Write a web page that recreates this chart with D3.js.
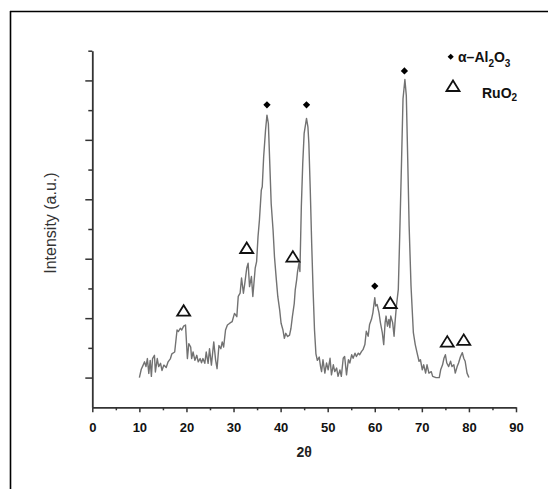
<!DOCTYPE html>
<html>
<head>
<meta charset="utf-8">
<script src="https://cdn.jsdelivr.net/npm/d3@7"></script>
<style>
  body { margin: 0; background: #fff; }
  svg { display: block; font-family: Arial, "Liberation Sans", sans-serif; }
</style>
</head>
<body>
<svg width="548" height="489"></svg>
<script>
// XRD pattern, 2theta vs intensity (arbitrary units)
const twoTheta = [10.0,10.4,10.8,11.1,11.4,11.7,12.0,12.3,12.55,12.8,13.2,13.4,13.8,14.1,14.5,14.8,15.2,15.7,16.1,16.6,16.9,17.5,
  18.0,18.3,18.7,19.0,19.4,19.8,20.2,20.5,20.9,21.1,21.4,21.8,22.2,22.5,22.9,23.2,23.5,23.9,24.2,24.6,24.9,25.3,25.8,26.2,26.5,
  26.9,27.3,27.6,27.9,28.3,28.7,29.2,29.7,30.2,30.7,31.0,31.4,31.7,32.1,32.4,32.8,33.1,33.4,33.8,34.1,34.6,34.9,35.2,35.5,35.9,
  36.1,36.4,36.8,37.1,37.4,37.7,38.0,38.4,38.7,39.1,39.4,39.8,40.1,40.5,40.8,41.1,41.5,41.9,42.2,42.5,42.9,43.1,43.4,43.6,43.9,
  44.1,44.4,44.7,45.0,45.5,45.8,46.0,46.3,46.6,46.9,47.2,47.5,47.8,48.2,48.5,48.7,49.0,49.4,49.75,50.1,50.5,50.8,51.2,51.5,51.9,
  52.2,52.6,52.9,53.3,53.6,54.0,54.4,54.7,55.1,55.4,55.8,56.1,56.5,56.8,57.2,57.5,57.9,58.2,58.6,58.9,59.3,59.6,60.0,60.2,60.5,
  60.9,61.2,61.6,61.9,62.2,62.4,62.7,63.0,63.2,63.4,63.8,64.1,64.3,64.6,65.0,65.3,65.7,66.0,66.4,66.7,67.0,67.3,67.7,68.2,68.6,
  69.0,69.4,69.7,70.1,70.4,70.8,71.1,71.5,72.0,72.3,73.0,73.7,74.0,74.4,74.7,75.0,75.3,75.7,76.1,76.4,76.8,77.1,77.5,77.8,78.2,
  78.6,78.9,79.2,79.6,80.0];
const intensity = [1.0,1.28,1.42,1.53,1.37,1.64,1.14,1.58,1.04,1.64,1.75,1.19,1.64,1.37,1.48,1.24,1.42,1.34,1.53,1.64,1.8,1.86,
  2.6,2.55,2.66,2.6,2.73,2.77,1.64,2.14,2.03,1.64,1.86,1.58,1.75,1.53,1.64,1.5,1.64,1.48,1.86,1.48,1.97,1.42,2.2,1.58,1.3,
  2.08,1.97,2.2,2.03,2.6,2.77,2.83,2.88,3.16,3.05,3.73,3.84,4.35,3.84,4.18,4.68,4.85,4.06,4.4,3.73,4.68,4.9,5.74,6.3,7.31,
  7.42,8.43,9.33,9.83,9.55,8.2,6.85,5.96,5.06,4.28,3.73,3.28,2.83,2.6,2.32,2.49,2.38,2.43,2.66,3.05,3.5,3.94,4.28,4.57,4.85,
  4.57,6.74,8.2,9.22,9.72,9.44,8.88,7.31,5.51,3.94,2.6,1.8,1.58,1.69,1.35,1.2,1.6,1.15,1.49,1.26,1.65,1.09,1.43,1.2,1.32,
  1.04,1.26,1.04,1.65,1.71,1.09,1.6,1.49,1.77,1.65,1.82,1.71,1.82,1.77,1.88,1.94,2.11,2.56,2.39,2.79,2.96,3.18,3.69,3.41,3.46,
  3.18,2.85,2.51,2.11,2.85,3.07,2.73,2.96,2.68,3.07,2.85,2.39,2.85,3.41,3.97,5.77,8.36,10.38,11.03,10.49,8.36,6.1,4.08,2.51,2.11,
  1.82,1.55,1.6,1.26,1.43,1.15,1.43,1.15,1.2,1.04,1.0,1.0,1.26,1.43,1.65,1.77,1.49,1.37,1.55,1.37,1.43,1.15,1.37,1.49,1.7,
  1.84,1.65,1.55,1.15,1.0];

// peak markers
const aluminaX = [37.1, 45.5, 60.0, 66.3];
const aluminaY = [10.18, 10.18, 4.08, 11.32];
const rutheniaX = [19.4, 32.8, 42.6, 63.3, 75.4, 78.9];
const rutheniaY = [3.25, 5.36, 5.07, 3.51, 2.21, 2.27];

const xTicks = [0, 10, 20, 30, 40, 50, 60, 70, 80, 90];
const xMinor = [5, 15, 25, 35, 45, 55, 65, 75, 85];
const yMajor = [1, 3, 5, 7, 9, 11];
const yMinor = [2, 4, 6, 8, 10, 12];

const svg = d3.select('svg');

// outer frame (only top and left edges visible)
svg.append('line').attr('x1', 10).attr('x2', 548).attr('y1', 11.5).attr('y2', 11.5)
  .attr('stroke', '#000').attr('stroke-width', 1.6);
svg.append('line').attr('x1', 10.5).attr('x2', 10.5).attr('y1', 11).attr('y2', 489)
  .attr('stroke', '#000').attr('stroke-width', 1.6);

let x = d3.scaleLinear().domain([0, 90]).range([92.3, 516]);
let y = d3.scaleLinear().domain([0, 12]).range([407.3, 50.7]);

// x axis
let xAxis = svg.append('g').attr('transform', `translate(0,${y(0)})`)
  .call(d3.axisBottom(x).tickValues(xTicks).tickSize(5).tickSizeOuter(0).tickPadding(10));
svg.append('g').attr('transform', `translate(0,${y(0)})`)
  .call(d3.axisBottom(x).tickValues(xMinor).tickSize(3).tickFormat(''))
  .select('.domain').remove();
xAxis.selectAll('text').attr('font-size', 13).attr('font-weight', 'bold')
  .attr('font-family', 'Arial, "Liberation Sans", sans-serif').attr('fill', '#111');

// y axis, no labels
let yAxis = svg.append('g').attr('transform', `translate(${x(0)},0)`)
  .call(d3.axisLeft(y).tickValues(yMajor).tickSize(7).tickSizeOuter(0).tickFormat(''));
svg.append('g').attr('transform', `translate(${x(0)},0)`)
  .call(d3.axisLeft(y).tickValues(yMinor).tickSize(4).tickFormat(''))
  .select('.domain').remove();

svg.selectAll('.domain').attr('stroke', '#333').attr('stroke-width', 1.8);
svg.selectAll('.tick line').attr('stroke', '#333').attr('stroke-width', 1.5);

// axis titles
svg.append('text').attr('x', (x(0) + x(90)) / 2).attr('y', 457)
  .attr('text-anchor', 'middle').attr('font-size', 14).attr('font-weight', 'bold')
  .attr('fill', '#222').text('2θ');
svg.append('text').attr('transform', `translate(56,${y(6.2)}) rotate(-90)`)
  .attr('text-anchor', 'middle').attr('font-size', 16).attr('fill', '#333')
  .text('Intensity (a.u.)');

// the pattern
let pts = twoTheta.map((t, i) => [t, intensity[i]]);
let line = d3.line().x((d) => x(d[0])).y((d) => y(d[1]));
svg.append('path').datum(pts).attr('d', line)
  .attr('fill', 'none').attr('stroke', '#727272').attr('stroke-width', 1.4)
  .attr('stroke-linejoin', 'round');

// markers
let diamond = d3.symbol().type(d3.symbolDiamond2).size(34);
aluminaX.forEach((t, i) => {
  svg.append('path').attr('d', diamond())
    .attr('transform', `translate(${x(t)},${y(aluminaY[i])})`).attr('fill', '#000');
});

function tri(cx, cy) {
  return `M${cx - 6.5},${cy + 5} L${cx},${cy - 5.5} L${cx + 6.5},${cy + 5} Z`;
}
rutheniaX.forEach((t, i) => {
  svg.append('path').attr('d', tri(x(t), y(rutheniaY[i])))
    .attr('fill', 'none').attr('stroke', '#111').attr('stroke-width', 1.8)
    .attr('stroke-linejoin', 'miter');
});

// legend
svg.append('path').attr('d', d3.symbol().type(d3.symbolDiamond2).size(24)())
  .attr('transform', 'translate(450.7,56.7)').attr('fill', '#000');
let t1 = svg.append('text').attr('x', 458).attr('y', 62).attr('font-size', 14)
  .attr('font-weight', 'bold').attr('fill', '#111');
t1.append('tspan').text('α–Al');
t1.append('tspan').attr('font-size', 10).attr('dy', 5).text('2');
t1.append('tspan').attr('dy', -5).text('O');
t1.append('tspan').attr('font-size', 10).attr('dy', 5).text('3');

svg.append('path').attr('d', tri(453, 86)).attr('fill', 'none')
  .attr('stroke', '#111').attr('stroke-width', 1.8);
let t2 = svg.append('text').attr('x', 482).attr('y', 98).attr('font-size', 14)
  .attr('font-weight', 'bold').attr('fill', '#111');
t2.append('tspan').text('RuO');
t2.append('tspan').attr('font-size', 10).attr('dy', 3).text('2');
</script>
</body>
</html>
